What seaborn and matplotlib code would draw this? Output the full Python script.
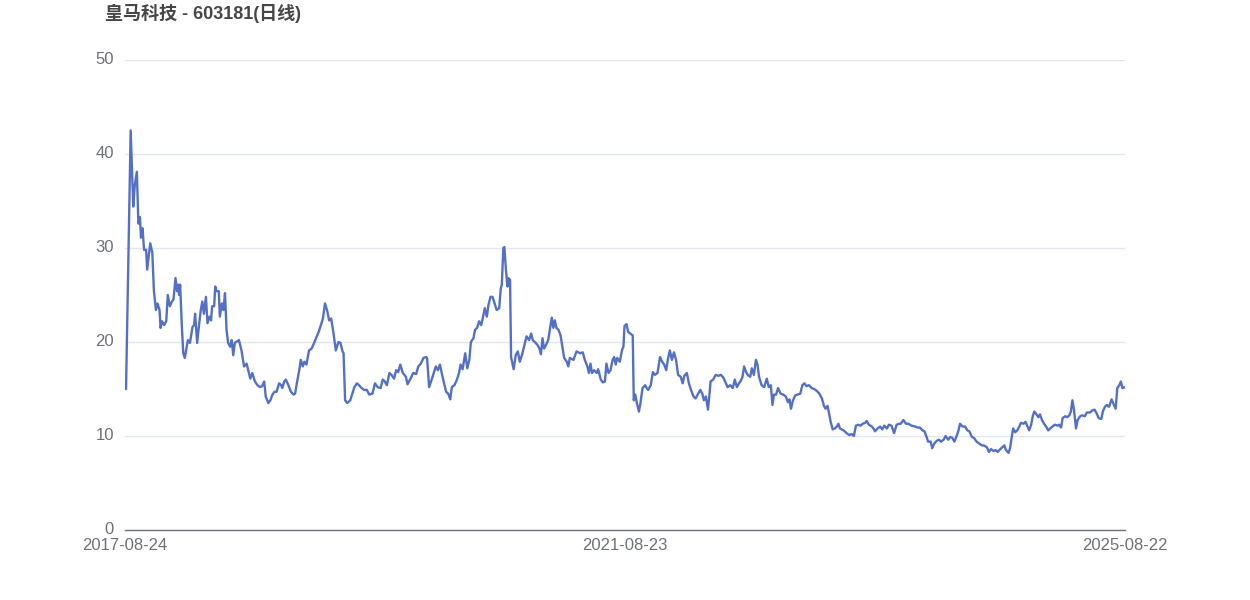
import numpy as np
import pandas as pd
import matplotlib
matplotlib.use("Agg")
import matplotlib.pyplot as plt
from matplotlib.transforms import ScaledTranslation
import seaborn as sns

# Daily close of 603181 (trading-day index -> price)
day = [
    0, 2, 11, 16, 19, 23, 26, 29, 31, 34, 37, 41, 43, 49, 53, 56, 60, 63, 67, 69,
    72, 76, 80, 83, 87, 91, 94, 98, 101, 103, 105, 107, 110, 113, 116, 122, 126, 131, 134, 136,
    140, 144, 147, 150, 153, 157, 160, 164, 167, 169, 173, 175, 178, 182, 184, 188, 191, 194, 197, 200,
    204, 207, 210, 213, 221, 226, 231, 236, 239, 243, 247, 252, 257, 262, 266, 270, 273, 278, 282, 286,
    290, 294, 299, 303, 305, 309, 312, 317, 322, 327, 330, 334, 338, 341, 345, 348, 352, 357, 362, 367,
    372, 376, 380, 384, 388, 392, 396, 400, 404, 409, 414, 418, 422, 424, 427, 431, 437, 441, 445, 450,
    454, 459, 464, 469, 474, 480, 485, 490, 496, 500, 504, 508, 513, 517, 522, 526, 530, 534, 539, 545,
    548, 554, 559, 565, 569, 574, 579, 584, 586, 590, 595, 599, 603, 607, 611, 614, 619, 623, 627, 631,
    634, 639, 644, 648, 651, 655, 660, 664, 668, 671, 676, 679, 683, 687, 691, 694, 698, 702, 705, 709,
    713, 716, 721, 726, 729, 731, 734, 736, 739, 742, 744, 747, 749, 751, 754, 758, 762, 766, 771, 775,
    779, 784, 788, 791, 795, 800, 804, 807, 810, 813, 817, 821, 825, 828, 831, 834, 837, 841, 845, 849,
    852, 857, 860, 863, 870, 876, 883, 888, 892, 897, 900, 903, 906, 910, 915, 918, 923, 927, 931, 934,
    938, 942, 946, 949, 952, 955, 960, 964, 967, 969, 973, 976, 980, 985, 987, 990, 993, 997, 1000, 1004,
    1009, 1012, 1015, 1020, 1024, 1028, 1033, 1038, 1042, 1046, 1050, 1053, 1057, 1061, 1065, 1069, 1073, 1078, 1082, 1085,
    1090, 1094, 1098, 1103, 1107, 1111, 1116, 1120, 1123, 1127, 1131, 1134, 1136, 1141, 1146, 1151, 1156, 1161, 1165, 1169,
    1174, 1179, 1183, 1187, 1191, 1194, 1198, 1201, 1205, 1208, 1213, 1216, 1220, 1224, 1227, 1230, 1235, 1240, 1245, 1249,
    1253, 1256, 1259, 1263, 1267, 1272, 1277, 1282, 1286, 1289, 1292, 1296, 1300, 1304, 1310, 1314, 1318, 1322, 1327, 1332,
    1337, 1342, 1347, 1352, 1356, 1359, 1363, 1367, 1369, 1373, 1377, 1381, 1384, 1387, 1394, 1400, 1405, 1410, 1414, 1418,
    1423, 1427, 1431, 1436, 1439, 1443, 1449, 1452, 1455, 1460, 1465, 1469, 1473, 1478, 1482, 1487, 1492, 1497, 1502, 1505,
    1510, 1515, 1520, 1526, 1533, 1538, 1542, 1547, 1551, 1555, 1558, 1563, 1566, 1570, 1575, 1579, 1583, 1588, 1592, 1597,
    1601, 1605, 1609, 1614, 1617, 1620, 1625, 1630, 1634, 1638, 1643, 1647, 1652, 1657, 1662, 1666, 1672, 1676, 1680, 1685,
    1689, 1693, 1698, 1702, 1706, 1709, 1714, 1717, 1720, 1723, 1727, 1731, 1735, 1738, 1743, 1747, 1751, 1754, 1758, 1761,
    1764, 1767, 1772, 1775, 1779, 1783, 1787, 1791, 1795, 1799, 1804, 1809, 1812, 1816, 1819, 1824, 1828, 1832, 1835, 1838,
    1841, 1845, 1848, 1853, 1857, 1862, 1866, 1872, 1876, 1881, 1885, 1889, 1894, 1897, 1901, 1905, 1909, 1914, 1917, 1922,
    1925, 1929, 1932, 1935, 1940,
]
close = [
    15.0, 15.0, 42.5, 34.4, 36.7, 38.1, 32.6, 33.3, 31.1, 32.1, 29.8, 29.8, 27.7, 30.5, 29.5, 25.5, 23.4, 24.1, 23.4, 21.5,
    22.2, 21.8, 22.2, 25.0, 23.8, 24.3, 24.5, 26.8, 25.4, 26.1, 25.0, 26.1, 22.0, 18.8, 18.3, 20.2, 19.9, 21.6, 21.8, 23.0,
    19.9, 22.0, 23.4, 24.3, 23.0, 24.8, 22.0, 22.7, 22.3, 23.8, 23.8, 25.9, 25.4, 25.4, 22.7, 24.1, 23.4, 25.2, 21.3, 19.9,
    19.5, 20.2, 18.6, 19.9, 20.2, 19.1, 17.4, 17.7, 17.0, 16.1, 16.7, 15.8, 15.4, 15.2, 15.3, 15.8, 14.2, 13.5, 13.8, 14.4,
    14.7, 14.7, 15.6, 15.4, 15.1, 15.8, 16.0, 15.4, 14.7, 14.4, 14.5, 15.8, 17.0, 18.1, 17.4, 17.9, 17.6, 19.1, 19.3, 19.9,
    20.6, 21.1, 21.8, 22.5, 24.1, 23.4, 22.3, 22.5, 21.1, 19.1, 20.0, 19.9, 19.0, 18.8, 13.8, 13.5, 13.8, 14.5, 15.2, 15.6,
    15.4, 15.1, 14.9, 14.9, 14.4, 14.5, 15.6, 15.2, 15.1, 16.0, 15.8, 15.4, 16.7, 16.5, 16.1, 17.0, 16.8, 17.6, 16.7, 16.3,
    15.5, 16.1, 16.7, 16.6, 17.4, 17.7, 18.3, 18.4, 18.3, 15.2, 16.0, 16.7, 17.4, 17.0, 17.6, 16.8, 15.6, 14.7, 14.5, 13.9,
    15.2, 15.4, 16.0, 16.7, 17.6, 17.1, 18.8, 17.2, 18.1, 20.0, 20.4, 21.3, 21.5, 22.2, 21.8, 22.5, 23.6, 22.7, 23.9, 24.8,
    24.8, 24.3, 23.4, 23.6, 25.7, 26.1, 30.0, 30.1, 27.7, 25.9, 26.8, 26.6, 18.4, 17.9, 17.1, 18.6, 19.0, 17.9, 18.8, 19.7,
    20.6, 20.2, 20.9, 20.2, 20.0, 19.7, 19.3, 18.7, 20.4, 19.3, 19.7, 20.2, 21.6, 22.6, 21.5, 22.3, 21.5, 21.3, 20.7, 19.3,
    18.3, 17.9, 17.4, 18.3, 18.1, 19.0, 18.8, 18.9, 18.1, 17.4, 16.7, 17.7, 16.7, 17.0, 16.7, 17.1, 16.0, 15.7, 15.8, 17.7,
    16.7, 17.0, 18.1, 18.4, 17.6, 18.3, 17.9, 19.1, 19.5, 21.7, 21.9, 21.1, 20.9, 20.7, 13.8, 14.4, 13.5, 12.6, 13.5, 15.1,
    15.4, 15.1, 14.9, 15.4, 16.8, 16.5, 16.7, 18.4, 17.9, 17.6, 17.0, 18.1, 19.1, 18.1, 18.9, 18.1, 16.5, 16.3, 15.6, 16.4,
    16.7, 15.6, 14.9, 14.2, 14.0, 14.4, 14.9, 14.5, 13.8, 14.2, 12.8, 14.5, 15.8, 16.0, 16.5, 16.4, 16.5, 16.2, 15.7, 15.2,
    15.4, 15.1, 16.0, 15.2, 15.6, 15.8, 16.3, 17.4, 16.8, 16.5, 16.3, 17.2, 16.5, 18.1, 17.6, 16.3, 15.4, 15.2, 16.1, 15.2,
    15.4, 13.3, 14.4, 14.4, 15.1, 14.5, 14.4, 14.2, 13.6, 13.9, 12.9, 13.8, 14.3, 14.4, 14.5, 15.4, 15.6, 15.3, 15.4, 15.1,
    15.0, 14.8, 14.5, 14.0, 13.2, 12.9, 13.2, 12.1, 11.5, 10.7, 10.8, 11.0, 11.3, 10.8, 10.6, 10.3, 10.1, 10.2, 10.0, 11.1,
    11.2, 11.1, 11.3, 11.4, 11.6, 11.2, 11.0, 10.8, 10.5, 10.8, 11.0, 10.7, 11.1, 10.8, 11.2, 11.1, 10.3, 11.2, 11.3, 11.3,
    11.7, 11.3, 11.3, 11.1, 11.0, 10.9, 10.9, 10.6, 10.5, 9.9, 9.4, 9.4, 8.7, 9.2, 9.5, 9.6, 9.4, 9.6, 10.0, 9.6,
    9.9, 9.8, 9.4, 10.1, 10.6, 11.3, 11.0, 11.0, 10.6, 10.5, 9.9, 9.8, 9.4, 9.2, 9.0, 9.0, 8.8, 8.3, 8.6, 8.4,
    8.5, 8.3, 8.6, 8.8, 9.0, 8.5, 8.2, 8.7, 9.8, 10.8, 10.4, 10.6, 11.0, 11.4, 11.3, 11.5, 11.0, 10.6, 11.2, 12.1,
    12.6, 12.4, 12.0, 12.3, 11.7, 11.3, 11.0, 10.6, 10.8, 11.0, 11.2, 11.1, 11.2, 10.9, 11.9, 12.1, 12.0, 12.2, 12.6, 13.8,
    12.8, 10.8, 11.7, 12.1, 12.2, 12.1, 12.5, 12.5, 12.7, 12.8, 12.4, 11.9, 11.8, 12.6, 13.1, 13.3, 13.1, 13.9, 13.5, 12.9,
    15.1, 15.4, 15.8, 15.1, 15.2,
]

title = "皇马科技 - 603181(日线)"
x_ticks = [0, 970, 1940]
x_labels = ["2017-08-24", "2021-08-23", "2025-08-22"]
y_ticks = [0, 10, 20, 30, 40, 50]

df = pd.DataFrame({"day": day, "close": close})

sns.set_theme(style="white")
plt.rcParams["font.family"] = ["Liberation Sans", "Noto Sans CJK SC", "DejaVu Sans"]

fig = plt.figure(figsize=(12.5, 6), dpi=100)
ax = fig.add_axes([0.1, 0.1167, 0.8, 0.7833])

sns.lineplot(data=df, x="day", y="close", ax=ax, color="#5470C6", linewidth=1.7)

ax.set_xlim(0, 1940)
ax.set_ylim(0, 50)
ax.set_yticks(y_ticks)
ax.set_yticklabels([str(v) for v in y_ticks])
ax.set_xticks(x_ticks)
ax.set_xticklabels(x_labels)
ax.set_xlabel("")
ax.set_ylabel("")

ax.grid(axis="y", color="#E0E6F1", linewidth=1)
ax.grid(axis="x", visible=False)
ax.set_axisbelow(True)
for side in ["top", "right", "left"]:
    ax.spines[side].set_visible(False)
ax.spines["bottom"].set_color("#6E7079")
ax.spines["bottom"].set_linewidth(1)

ax.tick_params(axis="both", length=0, labelsize=12, colors="#6E7079")
ax.tick_params(axis="y", pad=8)
ax.tick_params(axis="x", pad=6)

# y labels sit a touch above their gridlines in the original
shift = ScaledTranslation(0, 1.5 / 72, fig.dpi_scale_trans)
for lbl in ax.get_yticklabels():
    lbl.set_transform(lbl.get_transform() + shift)

fig.text(0.084, 0.978, title, fontsize=13, fontweight="bold", color="#464646",
         ha="left", va="center")

fig.savefig("out.png", dpi=100)
